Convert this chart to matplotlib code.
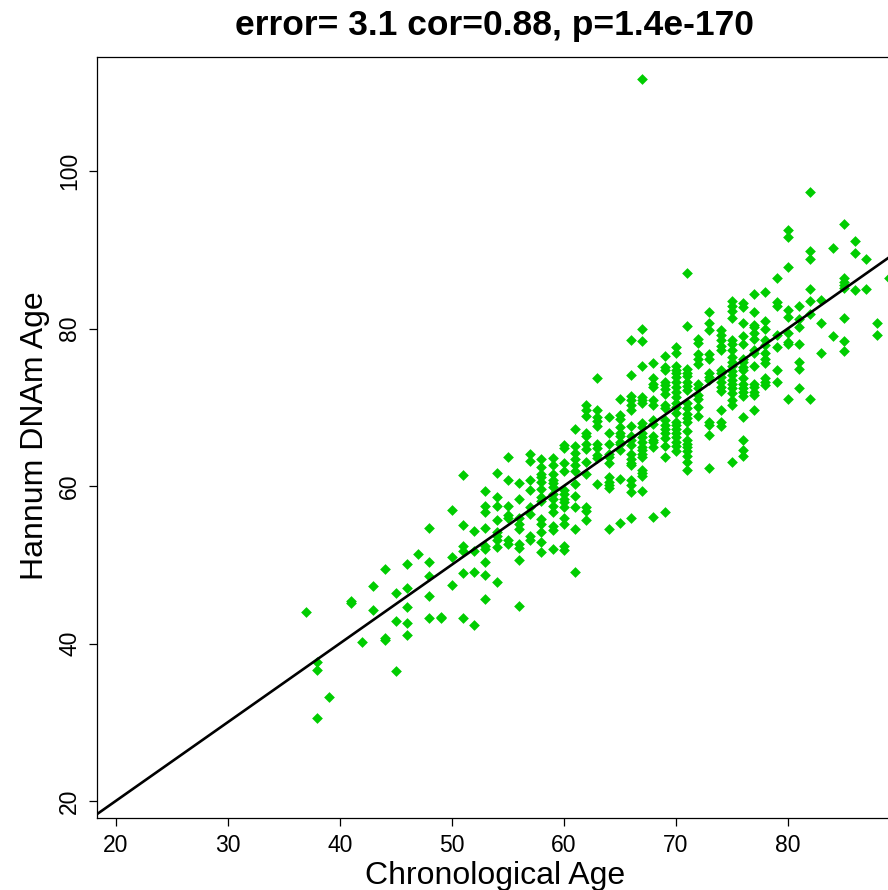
import matplotlib
matplotlib.use("Agg")
import matplotlib.pyplot as plt
import numpy as np

# chronological age (integer years) and the Hannum DNAm ages seen at each age
ages = [37, 38, 39, 41, 42, 43, 44, 45, 46, 47, 48, 49, 50, 51, 52, 53, 54, 55,
        56, 57, 58, 59, 60, 61, 62, 63, 64, 65, 66, 67, 68, 69, 70, 71, 72, 73,
        74, 75, 76, 77, 78, 79, 80, 81, 82, 83, 84, 85, 86, 87, 88, 89]
dnam_age = [
    [44.0],
    [37.6, 36.7, 30.6],
    [33.2],
    [45.4, 45.1],
    [40.2],
    [47.3, 44.3],
    [49.5, 40.7, 40.4],
    [46.4, 42.9, 36.5],
    [50.1, 47.0, 44.7, 42.6, 41.1],
    [51.4],
    [54.7, 50.3, 48.6, 46.0, 43.2],
    [43.4, 43.2],
    [57.0, 51.0, 47.4],
    [61.4, 55.1, 52.4, 51.8, 49.0, 43.2],
    [54.3, 51.7, 49.1, 42.3],
    [59.4, 57.5, 56.7, 54.7, 52.4, 52.0, 50.3, 48.7, 45.6],
    [61.7, 58.6, 57.5, 55.7, 54.2, 53.6, 53.1, 52.3, 47.8],
    [63.7, 60.8, 57.5, 56.3, 56.0, 53.2, 52.6],
    [60.4, 58.3, 55.9, 55.2, 54.6, 52.6, 52.1, 50.6, 44.8],
    [64.1, 63.2, 60.8, 59.5, 57.4, 56.5, 53.6, 53.2],
    [63.4, 62.4, 61.5, 61.2, 60.5, 59.6, 58.6, 58.1, 55.8, 55.2, 54.2, 52.9, 51.6],
    [63.6, 62.7, 61.5, 60.8, 60.4, 59.9, 59.0, 58.3, 57.5, 56.7, 54.9, 54.4, 52.0],
    [65.2, 64.8, 62.9, 61.9, 59.5, 59.0, 58.4, 58.0, 57.4, 55.9, 55.2, 52.4, 51.9],
    [67.2, 65.1, 64.2, 63.4, 62.7, 61.9, 60.3, 58.7, 57.3, 54.6, 49.1],
    [70.3, 69.7, 68.9, 66.7, 66.3, 65.4, 64.7, 63.1, 61.5, 57.4, 56.8, 55.7],
    [73.7, 69.7, 68.8, 68.3, 67.6, 65.3, 64.8, 63.9, 63.6, 60.3],
    [68.8, 66.7, 65.3, 64.1, 63.7, 62.9, 61.2, 60.5, 60.1, 59.7, 54.5],
    [71.0, 69.0, 68.5, 67.5, 66.7, 66.3, 65.6, 65.3, 64.6, 60.9, 55.3],
    [78.5, 74.1, 71.4, 70.9, 70.3, 69.7, 67.6, 66.3, 65.8, 65.2, 64.1, 63.5,
     62.9, 62.7, 60.8, 60.1, 59.3, 56.0],
    [111.7, 79.9, 78.4, 75.3, 71.3, 70.9, 70.6, 68.0, 67.5, 66.7, 66.2, 65.6,
     65.0, 64.6, 64.1, 63.7, 62.1, 61.7, 61.3, 59.4],
    [75.6, 73.7, 73.0, 72.6, 70.9, 70.3, 68.4, 67.9, 66.3, 65.9, 65.6, 64.9, 56.1],
    [76.5, 75.1, 74.7, 73.2, 72.8, 72.3, 71.7, 70.3, 69.9, 68.4, 67.7, 67.2,
     66.8, 66.1, 65.1, 63.7, 56.7],
    [77.7, 76.9, 75.2, 74.8, 74.3, 73.8, 73.2, 72.6, 72.0, 71.3, 70.5, 70.0,
     69.3, 68.2, 67.7, 67.2, 66.8, 66.2, 65.6, 65.1, 64.5],
    [87.1, 80.3, 74.9, 74.3, 74.0, 73.2, 72.7, 72.2, 70.5, 69.9, 69.2, 68.6,
     68.2, 67.0, 65.9, 65.4, 65.0, 64.4, 63.8, 63.1, 62.0],
    [78.7, 78.2, 76.8, 76.2, 75.5, 73.0, 72.4, 71.6, 71.1, 70.0, 68.9],
    [82.1, 80.7, 79.8, 76.8, 76.2, 74.3, 73.9, 73.5, 68.2, 67.7, 66.5, 62.3],
    [79.8, 79.2, 78.5, 77.8, 77.3, 74.8, 74.3, 73.8, 73.2, 72.6, 72.1, 69.7, 68.2, 67.6],
    [83.5, 82.9, 82.3, 81.3, 78.5, 78.0, 77.3, 76.4, 75.8, 75.2, 74.6, 74.1,
     73.5, 73.0, 72.4, 71.8, 70.9, 70.3, 63.1],
    [83.3, 82.8, 80.7, 79.1, 78.1, 76.2, 75.8, 75.1, 74.7, 73.7, 73.0, 72.4,
     72.0, 71.4, 68.8, 65.8, 64.6, 63.8],
    [84.4, 82.1, 80.4, 80.2, 79.4, 78.7, 77.3, 76.9, 75.2, 73.0, 72.6, 72.0, 71.6, 69.7],
    [84.7, 81.0, 79.9, 78.5, 77.9, 76.9, 76.2, 75.6, 73.7, 73.2, 72.8],
    [86.4, 83.4, 82.9, 79.2, 77.7, 74.8, 73.2],
    [92.5, 91.6, 87.8, 82.4, 81.5, 79.5, 78.3, 78.1, 71.0],
    [82.9, 81.2, 80.2, 78.1, 75.8, 74.9, 72.5],
    [97.4, 89.8, 88.9, 85.0, 83.5, 81.8, 71.0],
    [83.6, 80.7, 76.9],
    [90.3, 79.0],
    [93.3, 86.4, 85.9, 85.5, 85.1, 81.4, 78.4, 77.1],
    [91.1, 89.6, 84.9],
    [88.9, 85.0],
    [80.7, 79.2],
    [86.4],
]
title = "error= 3.1 cor=0.88, p=1.4e-170"

x = np.concatenate([[a] * len(v) for a, v in zip(ages, dnam_age)])
y = np.concatenate(dnam_age)

plt.rcParams['font.family'] = ['Liberation Sans', 'DejaVu Sans']

fig = plt.figure(figsize=(8.88, 8.90), dpi=100)
# plot region runs past the right edge of the picture (cropped like the original)
xlo, xhi = 18.33, 114.5
ylo, yhi = 17.84, 114.5
ax = fig.add_axes([97 / 888, 1 - 818 / 890, (xhi - xlo) * 11.2 / 888, 761 / 890])

ax.scatter(x, y, marker='D', s=30, color='#00CD00', linewidths=0, zorder=2)
ax.plot([xlo, xhi], [xlo, xhi], color='black', lw=1.9, zorder=3)

ax.set_xlim(xlo, xhi)
ax.set_ylim(ylo, yhi)
ax.set_xticks([20, 30, 40, 50, 60, 70, 80])
ax.set_yticks([20, 40, 60, 80, 100])
ax.tick_params(direction='out', length=5.5, width=0.9, labelsize=16.5, pad=6)
for lab in ax.get_yticklabels():
    lab.set_rotation(90)
    lab.set_va('center')
for sp in ax.spines.values():
    sp.set_linewidth(0.9)

fig.text(35 / 888, 1 - 436 / 890, "Hannum DNAm Age", rotation=90,
         ha='center', va='center', fontsize=23)
fig.text(495 / 888, 1 - 876 / 890, "Chronological Age", ha='center',
         va='center', fontsize=23)
fig.text(494 / 888, 1 - 25 / 890, title, ha='center', va='center',
         fontsize=25.5, fontweight='bold')

fig.savefig('out.png', dpi=100)
